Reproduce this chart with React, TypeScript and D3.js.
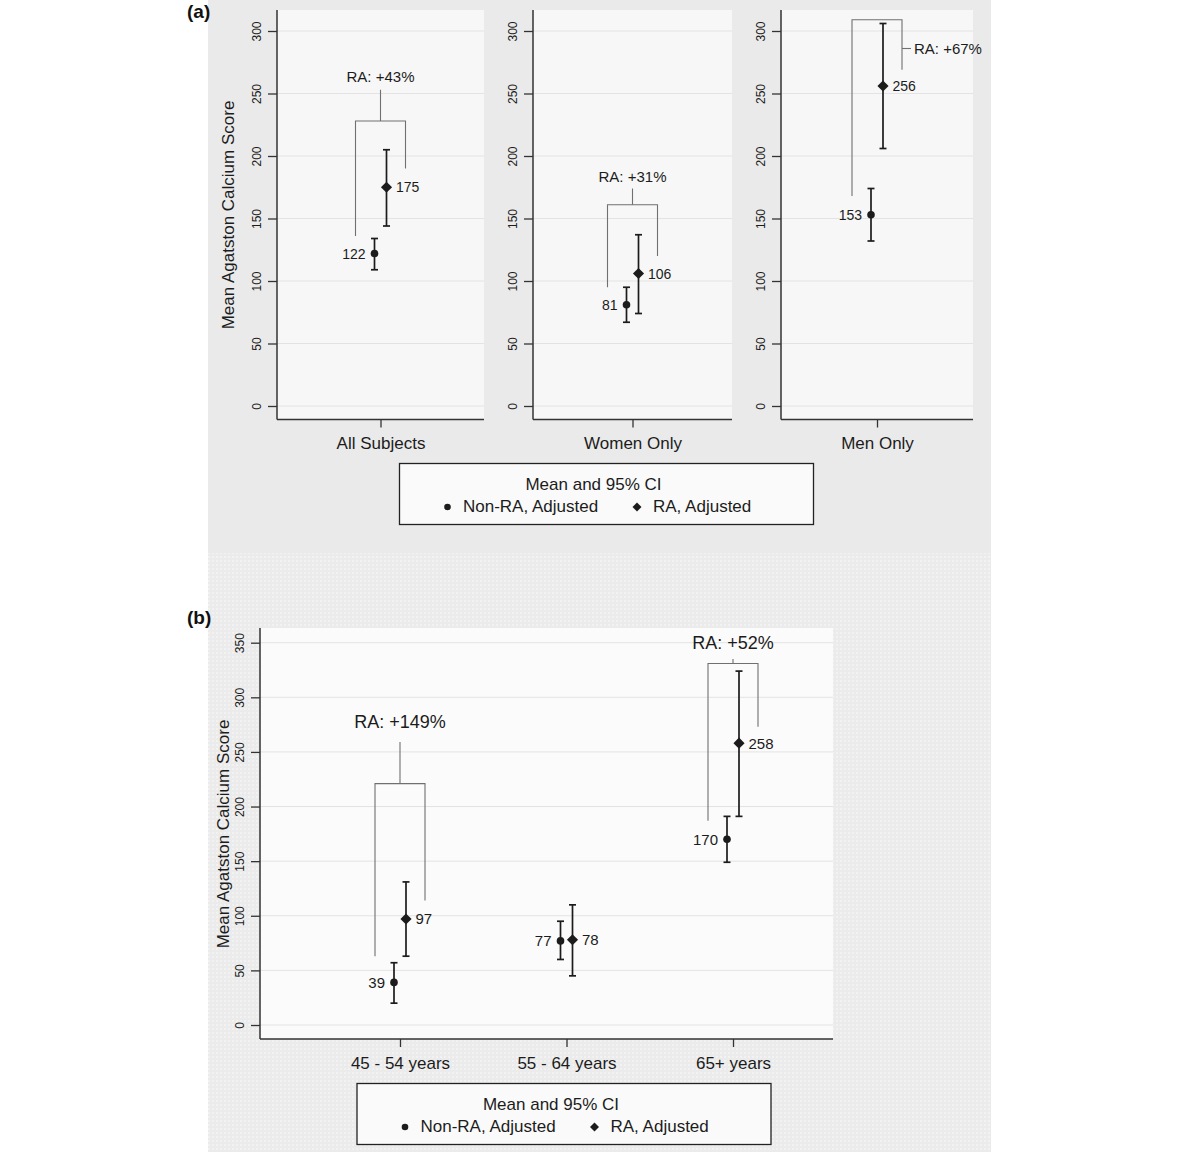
import React, { useEffect, useRef } from "react";
import * as d3 from "d3";

// ---- panel (a): overall / women / men ----
const groupsA = ["All Subjects", "Women Only", "Men Only"];
const nonRaMeanA = [122, 81, 153];
const nonRaLowA = [109, 67, 132];
const nonRaHighA = [134, 95, 174];
const raMeanA = [175, 106, 256];
const raLowA = [144, 74, 206];
const raHighA = [205, 137, 306];
const ticksA = [0, 50, 100, 150, 200, 250, 300];

// bracket annotations (data units)
const changeA = ["RA: +43%", "RA: +31%", "RA: +67%"];
const bracketTopA = [228, 161, 309];
const bracketLeftEndA = [136, 95, 168];
const bracketRightEndA = [190, 120, 269];
const stemEndA = [253, 174, 286];
const labelAtA = [259, 179, 282];
const stemSideA = [false, false, true];

// ---- panel (b): age groups ----
const groupsB = ["45 - 54 years", "55 - 64 years", "65+ years"];
const nonRaMeanB = [39, 77, 170];
const nonRaLowB = [20, 60, 149];
const nonRaHighB = [57, 95, 191];
const raMeanB = [97, 78, 258];
const raLowB = [63, 45, 191];
const raHighB = [131, 110, 324];
const ticksB = [0, 50, 100, 150, 200, 250, 300, 350];

const changeB = ["RA: +149%", "", "RA: +52%"];
const bracketTopB = [221, 0, 331];
const bracketLeftEndB = [63, 0, 187];
const bracketRightEndB = [114, 0, 273];
const stemEndB = [259, 0, 335];
const labelAtB = [272, 0, 344];

const legendTitle = "Mean and 95% CI";
const legendItems = ["Non-RA, Adjusted", "RA, Adjusted"];
const yTitle = "Mean Agatston Calcium Score";

const FONT = "'Liberation Sans', Arial, Helvetica, sans-serif";
const INK = "#1c1c1c";
const AXIS = "#333";
const GRID = "#e3e3e3";
const BRACKET = "#707070";

type Sel = d3.Selection<any, any, any, any>;

const drawFrame = (g: Sel, left: number, right: number, top: number, bottom: number,
    x: d3.ScalePoint<string>, y: d3.ScaleLinear<number, number>, ticks: number[], bg: string) => {
    g.append("rect").attr("x", left).attr("y", top).attr("width", right - left).attr("height", bottom - top).attr("fill", bg);
    g.append("g").selectAll("line").data(ticks).join("line")
        .attr("x1", left).attr("x2", right)
        .attr("y1", d => y(d)).attr("y2", d => y(d))
        .attr("stroke", GRID).attr("stroke-width", 1);

    const ya = g.append("g").attr("transform", `translate(${left},0)`)
        .call(d3.axisLeft(y).tickValues(ticks).tickSize(9).tickSizeOuter(0) as any);
    ya.select(".domain").remove();
    ya.selectAll("line").attr("stroke", AXIS).attr("stroke-width", 1.3);
    ya.selectAll("text")
        .attr("x", 0).attr("dy", "0.35em")
        .attr("transform", "translate(-20,0) rotate(-90)")
        .attr("text-anchor", "middle")
        .attr("font-size", 12).attr("font-family", FONT).attr("fill", INK);

    const xa = g.append("g").attr("transform", `translate(0,${bottom})`)
        .call(d3.axisBottom(x).tickSize(8).tickSizeOuter(0).tickPadding(9.5) as any);
    xa.select(".domain").remove();
    xa.selectAll("line").attr("stroke", AXIS).attr("stroke-width", 1.3);
    xa.selectAll("text").attr("font-size", 17).attr("font-family", FONT).attr("fill", INK);

    g.append("line").attr("x1", left).attr("x2", left).attr("y1", top).attr("y2", bottom)
        .attr("stroke", AXIS).attr("stroke-width", 1.5);
    g.append("line").attr("x1", left).attr("x2", right).attr("y1", bottom).attr("y2", bottom)
        .attr("stroke", AXIS).attr("stroke-width", 1.5);
};

const diamond = d3.symbol().type(d3.symbolSquare).size(62);

const drawPair = (g: Sel, cx: number, y: d3.ScaleLinear<number, number>,
    m0: number, lo0: number, hi0: number, m1: number, lo1: number, hi1: number, fs: number) => {
    const pts = [
        { x: cx - 6, m: m0, lo: lo0, hi: hi0, ra: false },
        { x: cx + 6, m: m1, lo: lo1, hi: hi1, ra: true },
    ];
    pts.forEach(p => {
        g.append("line").attr("x1", p.x).attr("x2", p.x).attr("y1", y(p.lo)).attr("y2", y(p.hi))
            .attr("stroke", INK).attr("stroke-width", 1.7);
        [p.lo, p.hi].forEach(v => {
            g.append("line").attr("x1", p.x - 3.5).attr("x2", p.x + 3.5).attr("y1", y(v)).attr("y2", y(v))
                .attr("stroke", INK).attr("stroke-width", 1.7);
        });
        if (p.ra) {
            g.append("path").attr("d", diamond()!)
                .attr("transform", `translate(${p.x},${y(p.m)}) rotate(45)`).attr("fill", INK);
        } else {
            g.append("circle").attr("cx", p.x).attr("cy", y(p.m)).attr("r", 3.8).attr("fill", INK);
        }
        g.append("text")
            .attr("x", p.ra ? p.x + 9.5 : p.x - 9)
            .attr("y", y(p.m)).attr("dy", "0.36em")
            .attr("text-anchor", p.ra ? "start" : "end")
            .attr("font-size", fs).attr("font-family", FONT).attr("fill", INK)
            .text(p.m);
    });
};

const drawBracket = (g: Sel, cx: number, y: d3.ScaleLinear<number, number>, top: number, leftEnd: number,
    rightEnd: number, stemEnd: number, labelAt: number, label: string, side: boolean, fs: number) => {
    const lx = cx - 25, rx = cx + 25;
    g.append("path")
        .attr("d", `M${lx},${y(leftEnd)}V${y(top)}H${rx}V${y(rightEnd)}`)
        .attr("fill", "none").attr("stroke", BRACKET).attr("stroke-width", 1.1);
    if (side) {
        g.append("path").attr("d", `M${rx},${y(stemEnd)}H${rx + 9}`)
            .attr("fill", "none").attr("stroke", BRACKET).attr("stroke-width", 1.1);
        g.append("text").attr("x", rx + 12).attr("y", y(labelAt))
            .attr("text-anchor", "start").attr("font-size", fs).attr("font-family", FONT).attr("fill", INK)
            .text(label);
    } else {
        g.append("path").attr("d", `M${cx},${y(top)}V${y(stemEnd)}`)
            .attr("fill", "none").attr("stroke", BRACKET).attr("stroke-width", 1.1);
        g.append("text").attr("x", cx).attr("y", y(labelAt))
            .attr("text-anchor", "middle").attr("font-size", fs).attr("font-family", FONT).attr("fill", INK)
            .text(label);
    }
};

const drawLegend = (g: Sel, x: number, y: number) => {
    g.append("rect").attr("x", x).attr("y", y).attr("width", 414).attr("height", 61)
        .attr("fill", "#fafafa").attr("stroke", "#222").attr("stroke-width", 1.3);
    g.append("text").attr("x", x + 194).attr("y", y + 26).attr("text-anchor", "middle")
        .attr("font-size", 17).attr("font-family", FONT).attr("fill", INK).text(legendTitle);
    g.append("circle").attr("cx", x + 48).attr("cy", y + 43.5).attr("r", 3.3).attr("fill", INK);
    g.append("path").attr("d", d3.symbol().type(d3.symbolSquare).size(40)()!)
        .attr("transform", `translate(${x + 237.5},${y + 43.5}) rotate(45)`).attr("fill", INK);
    legendItems.forEach((t, i) => {
        g.append("text").attr("x", x + (i === 0 ? 63.5 : 253.5)).attr("y", y + 48.5)
            .attr("font-size", 17).attr("font-family", FONT).attr("fill", INK).text(t);
    });
};

const App = () => {
    const svgRef = useRef<SVGSVGElement>(null);

    useEffect(() => {
        if (!svgRef.current) return;
        const svg = d3.select(svgRef.current);
        svg.selectAll("*").remove();

        const defs = svg.append("defs");
        const pat = defs.append("pattern").attr("id", "tex").attr("width", 4).attr("height", 4)
            .attr("patternUnits", "userSpaceOnUse");
        pat.append("rect").attr("width", 4).attr("height", 4).attr("fill", "#ebebeb");
        pat.append("rect").attr("width", 2).attr("height", 2).attr("fill", "#f2f2f2");

        svg.append("rect").attr("width", 1200).attr("height", 1152).attr("fill", "#fff");
        svg.append("rect").attr("x", 208).attr("y", 0).attr("width", 783).attr("height", 553).attr("fill", "#eaeaea");
        svg.append("rect").attr("x", 208).attr("y", 553).attr("width", 783).attr("height", 599).attr("fill", "url(#tex)");

        // ---------- (a) ----------
        const gA = svg.append("g");
        const yA = d3.scaleLinear().domain([0, 300]).range([406, 31]);
        const panelsA: [number, number][] = [[277, 484], [533, 732], [781, 973]];
        groupsA.forEach((name, i) => {
            const [l, r] = panelsA[i];
            const x = d3.scalePoint<string>().domain([name]).range([l, r]).padding(0.5);
            drawFrame(gA, l, r, 10, 419.5, x, yA, ticksA, "#f7f7f7");
            const cx = x(name)!;
            drawBracket(gA, cx, yA, bracketTopA[i], bracketLeftEndA[i], bracketRightEndA[i],
                stemEndA[i], labelAtA[i], changeA[i], stemSideA[i], 15);
            drawPair(gA, cx, yA, nonRaMeanA[i], nonRaLowA[i], nonRaHighA[i],
                raMeanA[i], raLowA[i], raHighA[i], 14);
        });
        gA.append("text").attr("transform", "translate(228,215) rotate(-90)").attr("dy", "0.35em")
            .attr("text-anchor", "middle").attr("font-size", 17).attr("font-family", FONT).attr("fill", INK)
            .text(yTitle);
        gA.append("text").attr("x", 187).attr("y", 18).attr("font-size", 19).attr("font-weight", "bold")
            .attr("font-family", FONT).attr("fill", "#111").text("(a)");
        drawLegend(gA, 399.5, 463.5);

        // ---------- (b) ----------
        const gB = svg.append("g");
        const yB = d3.scaleLinear().domain([0, 350]).range([1025, 642.7]);
        const xB = d3.scalePoint<string>().domain(groupsB).range([400, 733]);
        drawFrame(gB, 260, 833, 628, 1039, xB, yB, ticksB, "#fbfbfb");
        groupsB.forEach((name, i) => {
            const cx = xB(name)!;
            if (changeB[i]) {
                drawBracket(gB, cx, yB, bracketTopB[i], bracketLeftEndB[i], bracketRightEndB[i],
                    stemEndB[i], labelAtB[i], changeB[i], false, 18);
            }
            drawPair(gB, cx, yB, nonRaMeanB[i], nonRaLowB[i], nonRaHighB[i],
                raMeanB[i], raLowB[i], raHighB[i], 15);
        });
        gB.append("text").attr("transform", "translate(223,834) rotate(-90)").attr("dy", "0.35em")
            .attr("text-anchor", "middle").attr("font-size", 17).attr("font-family", FONT).attr("fill", INK)
            .text(yTitle);
        gB.append("text").attr("x", 187).attr("y", 624).attr("font-size", 19).attr("font-weight", "bold")
            .attr("font-family", FONT).attr("fill", "#111").text("(b)");
        drawLegend(gB, 357, 1083.5);
    }, []);

    return (
        <svg ref={svgRef} width={1200} height={1152}
            style={{ position: "absolute", left: 0, top: 0, display: "block" }} />
    );
};

export default App;
